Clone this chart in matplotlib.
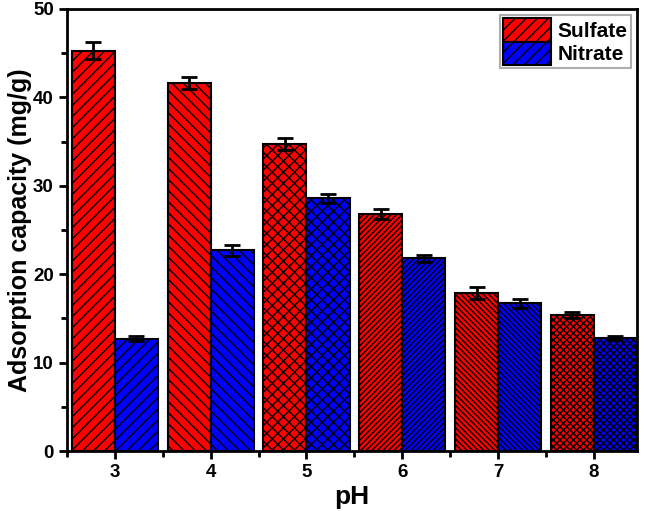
import matplotlib
matplotlib.use("Agg")
import matplotlib.pyplot as plt
import numpy as np
from matplotlib.patches import Patch
from matplotlib.ticker import MultipleLocator

plt.rcParams["font.family"] = ["Liberation Sans", "DejaVu Sans"]
plt.rcParams["font.weight"] = "bold"
plt.rcParams["hatch.linewidth"] = 1.0

ph = [3, 4, 5, 6, 7, 8]
sulfate = [45.3, 41.6, 34.7, 26.8, 17.9, 15.4]
sulfate_err = [1.0, 0.7, 0.7, 0.6, 0.7, 0.35]
nitrate = [12.7, 22.7, 28.6, 21.8, 16.7, 12.8]
nitrate_err = [0.3, 0.6, 0.5, 0.4, 0.5, 0.2]
hatches = ["///", "\\\\\\", "xxx", "//////", "\\\\\\\\\\\\", "xxxxx"]

x = np.array(ph, dtype=float)
w = 0.45

fig = plt.figure(figsize=(6.46, 5.11), dpi=100)
ax = fig.add_axes([0.1037, 0.1174, 0.8824, 0.8650])

err_kw = dict(ecolor="black", elinewidth=2, capsize=6, capthick=2)
for i in range(len(ph)):
    ax.bar(x[i] - w / 2, sulfate[i], w, yerr=sulfate_err[i], color="#ff0000",
           edgecolor="black", linewidth=1.5, hatch=hatches[i], error_kw=err_kw, zorder=2)
    ax.bar(x[i] + w / 2, nitrate[i], w, yerr=nitrate_err[i], color="#0000ff",
           edgecolor="black", linewidth=1.5, hatch=hatches[i], error_kw=err_kw, zorder=2)

ax.set_xlim(2.5, 8.45)
ax.set_ylim(0, 50)
ax.set_xticks(ph)
ax.xaxis.set_minor_locator(MultipleLocator(1, offset=0.5))
ax.yaxis.set_major_locator(MultipleLocator(10))
ax.yaxis.set_minor_locator(MultipleLocator(5))
ax.tick_params(which="major", direction="out", length=6, width=2, labelsize=13.5)
ax.tick_params(which="minor", direction="out", length=4, width=2)
for lab in ax.get_xticklabels() + ax.get_yticklabels():
    lab.set_fontweight("bold")
for sp in ax.spines.values():
    sp.set_linewidth(2)

ax.set_xlabel("pH", fontsize=19, fontweight="bold", labelpad=3)
ax.set_ylabel("Adsorption capacity (mg/g)", fontsize=18, fontweight="bold", labelpad=1)

handles = [Patch(facecolor="#ff0000", edgecolor="black", hatch="///", linewidth=1.5, label="Sulfate"),
           Patch(facecolor="#0000ff", edgecolor="black", hatch="///", linewidth=1.5, label="Nitrate")]
leg = ax.legend(handles=handles, loc="upper right", fontsize=15, frameon=True, fancybox=False,
                edgecolor="#999999", handlelength=2.3, handleheight=1.35, handletextpad=0.3,
                borderpad=0.15, labelspacing=0.0, borderaxespad=0.3)
leg.get_frame().set_linewidth(1.5)
for t in leg.get_texts():
    t.set_fontweight("bold")

fig.savefig("out.png", dpi=100)
